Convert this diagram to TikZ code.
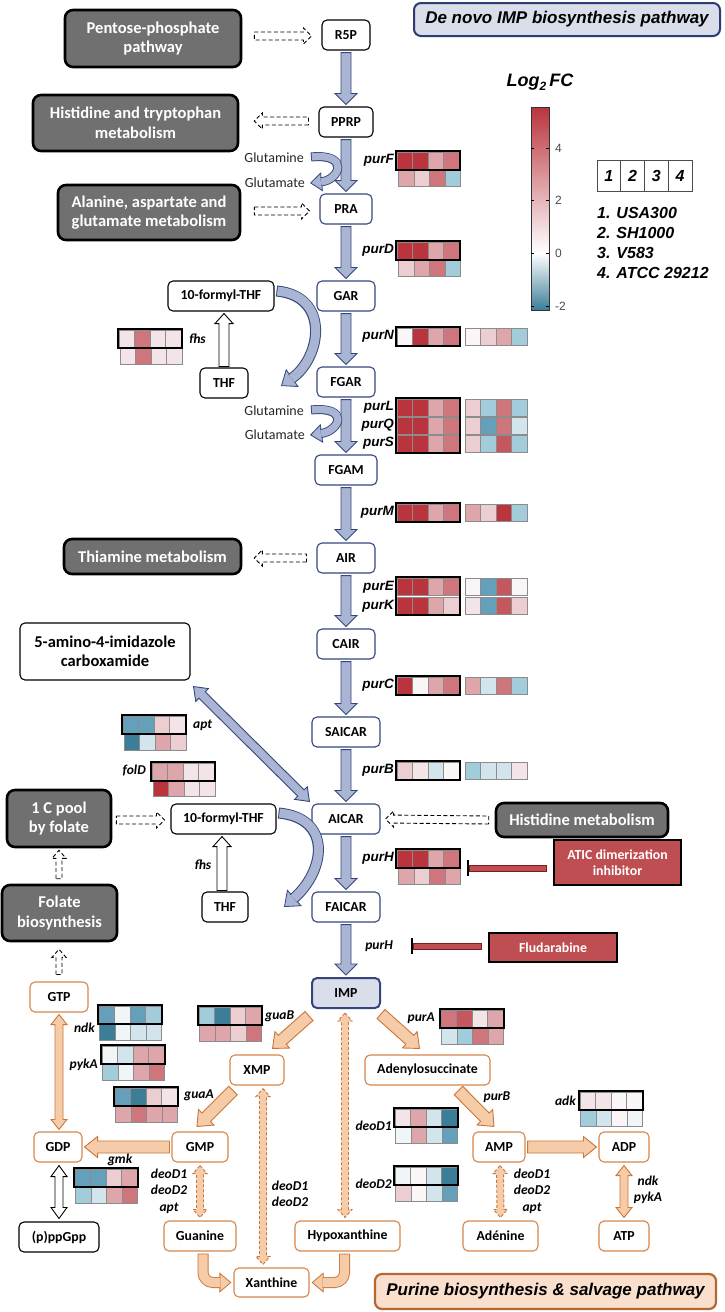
\documentclass[tikz,border=0pt]{standalone}
\usepackage{fontspec}
\setmainfont{Carlito}
\newfontfamily\arialf{Liberation Sans}
\usetikzlibrary{calc,arrows.meta}

\definecolor{navy}{RGB}{52,70,125}
\definecolor{navyb}{RGB}{45,60,110}
\definecolor{blfill}{RGB}{170,181,212}
\definecolor{impfill}{RGB}{218,221,234}
\definecolor{grayfill}{RGB}{112,112,112}
\definecolor{orbd}{RGB}{214,134,74}
\definecolor{orfill}{RGB}{246,203,168}
\definecolor{orarbd}{RGB}{200,118,58}
\definecolor{peach}{RGB}{250,224,204}
\definecolor{peachbd}{RGB}{182,104,52}
\definecolor{inred}{RGB}{190,78,82}
\definecolor{inredbd}{RGB}{120,30,35}
% heat map colours
\definecolor{rA}{RGB}{186,52,62}
\definecolor{rB2}{RGB}{197,88,95}
\definecolor{rB}{RGB}{207,118,124}
\definecolor{rC}{RGB}{222,165,170}
\definecolor{rD}{RGB}{236,206,210}
\definecolor{rE}{RGB}{243,228,231}
\definecolor{wW}{RGB}{250,246,247}
\definecolor{wB}{RGB}{240,246,248}
\definecolor{bD}{RGB}{210,229,236}
\definecolor{bC}{RGB}{163,204,219}
\definecolor{bB}{RGB}{100,160,185}
\definecolor{bA}{RGB}{60,125,152}

\newcommand\fnode{\fontsize{13.8}{15}\selectfont\bfseries}
\newcommand\gfont{\fontsize{16.5}{19.5}\selectfont\bfseries}
\newcommand\glabfont{\arialf\fontsize{13.5}{15}\selectfont\bfseries\itshape}
\newcommand\clabfont{\fontsize{13.5}{16.5}\selectfont\bfseries\itshape}
\newcommand\ttlfont{\arialf\fontsize{17}{20}\selectfont\bfseries\itshape}
\newcommand\glufont{\fontsize{14}{15}\selectfont}

\tikzset{
 wbox/.style={draw=black, line width=1.1pt, rounded corners=5pt, fill=white, minimum height=30pt, inner sep=3pt, font=\fnode},
 bbox/.style={wbox, draw=navy},
 obox/.style={wbox, draw=orbd},
 gbox/.style={draw=black, line width=2.6pt, rounded corners=8pt, fill=grayfill, text=white, font=\gfont, align=center, inner sep=2pt},
 glab/.style={font=\glabfont, inner sep=0pt},
 clab/.style={font=\clabfont, inner sep=0pt, align=center},
 glu/.style={anchor=east, inner sep=0pt, font=\glufont, text=black!85},
 barw/.style={fill=blfill, draw=navy, line width=0.9pt},
 oarw/.style={fill=orfill, draw=orarbd, line width=0.9pt},
 odash/.style={fill=orfill, draw=orarbd, line width=0.9pt, dash pattern=on 3pt off 2pt},
 darw/.style={fill=white, draw=black, line width=0.9pt, dash pattern=on 4pt off 2.5pt},
 warw/.style={fill=white, draw=black, line width=0.9pt},
 hmc/.style={draw=black!45, line width=0.5pt},
 redbox/.style={draw=black, line width=2.4pt, fill=inred, text=white, font=\fontsize{13.8}{16}\selectfont\bfseries, align=center},
}

% straight block arrow: style, from, to, shaft half width, head half width, head length
\newcommand\blkarrow[6]{%
 \coordinate (ba) at (#2); \coordinate (bb) at (#3);
 \coordinate (bc) at ($(bb)!#6!(ba)$);
 \draw[#1] ($(ba)!#4!90:(bb)$) -- ($(bc)!#4!90:(bb)$) -- ($(bc)!#5!90:(bb)$) -- (bb)
   -- ($(bc)!#5!-90:(bb)$) -- ($(bc)!#4!-90:(bb)$) -- ($(ba)!#4!-90:(bb)$) -- cycle;}
% double headed block arrow
\newcommand\dblkarrow[6]{%
 \coordinate (ba) at (#2); \coordinate (bb) at (#3);
 \coordinate (bc) at ($(bb)!#6!(ba)$); \coordinate (bd) at ($(ba)!#6!(bb)$);
 \draw[#1] (ba) -- ($(bd)!#5!90:(bb)$) -- ($(bd)!#4!90:(bb)$) -- ($(bc)!#4!90:(bb)$) -- ($(bc)!#5!90:(bb)$) -- (bb)
   -- ($(bc)!#5!-90:(bb)$) -- ($(bc)!#4!-90:(bb)$) -- ($(bd)!#4!-90:(bb)$) -- ($(bd)!#5!-90:(bb)$) -- cycle;}
% curved block arrow: fill, border, outer width, inner width, head length, head full width, shorten, path
\newcommand\crvarrow[8]{%
 \draw[draw=#2,line width=0.8pt,-{Triangle[length=#5,width=#6,fill=#1]}] #8;
 \draw[draw=#2,line width=#3,shorten >=#7] #8;
 \draw[draw=#1,line width=#4,shorten >=#7,shorten <=0.9pt] #8;}
% heat map row: x, y, height, four colours
\newcommand\hmrow[7]{%
 \filldraw[hmc,fill=#4] (#1,#2) rectangle ++(15.5,#3);
 \filldraw[hmc,fill=#5] (#1+15.5,#2) rectangle ++(15.5,#3);
 \filldraw[hmc,fill=#6] (#1+31,#2) rectangle ++(15.5,#3);
 \filldraw[hmc,fill=#7] (#1+46.5,#2) rectangle ++(15.5,#3);}
\newcommand\hmframe[3]{\draw[line width=2.4pt] (#1-1,#2-1) rectangle (#1+63,#2+#3+1);}

\begin{document}
\begin{tikzpicture}[x=1pt,y=-1pt]
\useasboundingbox (0,0) rectangle (725,1312);
\fill[white] (0,0) rectangle (725,1312);

% ---------- title boxes ----------
\node[draw=navyb, fill=impfill, line width=2pt, rounded corners=7pt, minimum width=306pt, minimum height=33pt, font=\ttlfont] (title) at (567,19.5) {De novo IMP biosynthesis pathway};
\node[draw=peachbd, fill=peach, line width=2.2pt, rounded corners=7pt, minimum width=341pt, minimum height=35pt, font=\ttlfont] (title2) at (545.5,1291.5) {Purine biosynthesis \& salvage pathway};

% ---------- main column ----------
\node[wbox, minimum width=48pt] (R5P) at (346,35) {R5P};
\node[wbox, minimum width=54pt] (PPRP) at (346,122) {PPRP};
\node[bbox, minimum width=52pt] (PRA) at (346,209) {PRA};
\node[bbox, minimum width=58pt] (GAR) at (346,296) {GAR};
\node[bbox, minimum width=58pt] (FGAR) at (346,382) {FGAR};
\node[bbox, minimum width=62pt] (FGAM) at (346,470) {FGAM};
\node[bbox, minimum width=58pt] (AIR) at (346,558) {AIR};
\node[bbox, minimum width=58pt] (CAIR) at (346,644) {CAIR};
\node[bbox, minimum width=68pt] (SAICAR) at (346,732) {SAICAR};
\node[bbox, minimum width=68pt] (AICAR) at (346,819) {AICAR};
\node[bbox, minimum width=68pt] (FAICAR) at (346,907) {FAICAR};
\node[bbox, minimum width=68pt, fill=impfill, line width=2pt] (IMP) at (346,993) {IMP};

\foreach \ma/\mb in {R5P/PPRP, PPRP/PRA, PRA/GAR, GAR/FGAR, FGAR/FGAM, FGAM/AIR, AIR/CAIR, CAIR/SAICAR, SAICAR/AICAR, AICAR/FAICAR, FAICAR/IMP}
 {\blkarrow{barw}{$(\ma.south)+(0,2)$}{$(\mb.north)+(0,-2)$}{5pt}{11pt}{11pt}}

% ---------- grey pathway boxes ----------
\node[gbox, minimum width=176pt, minimum height=57pt] (pent) at (153,38.5) {Pentose-phosphate\\pathway};
\node[gbox, minimum width=205pt, minimum height=56pt] (histtry) at (135.5,123) {Histidine and tryptophan\\metabolism};
\node[gbox, minimum width=182pt, minimum height=55pt] (ala) at (149,212.5) {Alanine, aspartate and\\glutamate metabolism};
\node[gbox, minimum width=177pt, minimum height=35pt] (thia) at (152.5,556.5) {Thiamine metabolism};
\node[gbox, minimum width=172pt, minimum height=34pt] (hist) at (582,820) {Histidine metabolism};
\node[gbox, minimum width=104pt, minimum height=57pt] (cpool) at (59,818.5) {1 C pool\\by folate};
\node[gbox, minimum width=115pt, minimum height=56pt] (folbio) at (59.5,913) {Folate\\biosynthesis};

% ---------- white boxes ----------
\node[wbox, minimum width=106pt] (fthfA) at (221,296) {10-formyl-THF};
\node[wbox, minimum width=48pt] (thfA) at (224,383) {THF};
\node[wbox, minimum width=170pt, minimum height=57pt, font=\gfont, align=center] (amino) at (105,651.5) {5-amino-4-imidazole\\carboxamide};
\node[wbox, minimum width=105pt] (fthfB) at (223.5,819) {10-formyl-THF};
\node[wbox, minimum width=46pt] (thfB) at (225,907) {THF};
\node[wbox, minimum width=80pt] (ppgpp) at (59,1237) {(p)ppGpp};

% ---------- orange boxes ----------
\node[obox, minimum width=58pt] (GTP) at (59,997) {GTP};
\node[obox, minimum width=54pt] (XMP) at (257,1070) {XMP};
\node[obox, minimum width=125pt] (adsu) at (427.5,1070) {Adenylosuccinate};
\node[obox, minimum width=48pt] (GDP) at (58,1147) {GDP};
\node[obox, minimum width=56pt] (GMP) at (200,1147) {GMP};
\node[obox, minimum width=72pt] (gua) at (200,1236) {Guanine};
\node[obox, minimum width=75pt, minimum height=29pt] (xan) at (271.5,1282.5) {Xanthine};
\node[obox, minimum width=105pt] (hyp) at (347.5,1236) {Hypoxanthine};
\node[obox, minimum width=52pt] (AMP) at (499,1147) {AMP};
\node[obox, minimum width=50pt] (ADP) at (624,1147) {ADP};
\node[obox, minimum width=75pt] (ade) at (500.5,1236) {Adénine};
\node[obox, minimum width=50pt] (ATP) at (624,1236) {ATP};

% ---------- dashed pathway arrows ----------
\blkarrow{darw}{$(pent.east)+(12,-2.5)$}{$(R5P.west)+(-10,1)$}{4pt}{8pt}{8pt}
\blkarrow{darw}{$(PPRP.west)+(-10,-1)$}{$(histtry.east)+(15,-2)$}{4pt}{8pt}{8pt}
\blkarrow{darw}{$(ala.east)+(13,-1.5)$}{$(PRA.west)+(-10,2)$}{4pt}{8pt}{8pt}
\blkarrow{darw}{$(AIR.west)+(-10,0)$}{$(thia.east)+(12,1.5)$}{4pt}{8pt}{8pt}
\blkarrow{darw}{$(hist.west)+(-6,0)$}{$(AICAR.east)+(5,0)$}{4pt}{8pt}{8pt}
\blkarrow{darw}{$(cpool.east)+(4,1.5)$}{$(fthfB.west)+(-6,1)$}{4pt}{8pt}{8pt}
\blkarrow{darw}{$(folbio.north)+(-0.5,-5)$}{$(cpool.south)+(0,2)$}{3pt}{7pt}{8pt}
\blkarrow{darw}{$(GTP.north)+(0,-7)$}{$(folbio.south)+(-0.5,7)$}{3pt}{7pt}{8pt}

% ---------- fhs arrows (white) ----------
\blkarrow{warw}{$(thfA.north)+(0,-1)$}{$(fthfA.south -| thfA.north)+(0,2)$}{5pt}{9pt}{10pt}
\blkarrow{warw}{$(thfB.north)+(-3,-1)$}{$(fthfB.south -| thfB.north)+(-3,2)$}{5pt}{9pt}{10pt}
\node[clab] (lfhsB) at (203,865) {fhs};

% ---------- blue double arrow ----------
\dblkarrow{barw}{$(amino.south east)+(3,6)$}{$(AICAR.north west)+(-2,-2)$}{4.5pt}{9pt}{12pt}

% ---------- glutamine / glutamate ----------
\node[glu] (glnA) at (304,158) {Glutamine};
\node[glu] (gltA) at (305,183) {Glutamate};
\node[glu] (glnB) at (304,411) {Glutamine};
\node[glu] (gltB) at (305,435) {Glutamate};
\crvarrow{blfill}{navy}{9pt}{7.2pt}{12pt}{19pt}{11pt}{($(glnA.east)+(7,-1)$) .. controls (350,153) and (340,180) .. ($(gltA.east)+(5,0)$)}
\crvarrow{blfill}{navy}{9pt}{7.2pt}{12pt}{19pt}{11pt}{($(glnB.east)+(7,-1)$) .. controls (350,406) and (340,431) .. ($(gltB.east)+(5,0)$)}

% ---------- big folate arcs ----------
\coordinate (arcA) at (281,386);
\coordinate (arcB) at (284,907);
\crvarrow{blfill}{navy}{11pt}{9pt}{14pt}{22pt}{13pt}{($(fthfA.east)+(2,-5)$) .. controls (330,296) and (322,357) .. (arcA)}
\crvarrow{blfill}{navy}{11pt}{9pt}{14pt}{22pt}{13pt}{($(fthfB.east)+(2,-6)$) .. controls (332,818) and (326,870) .. (arcB)}

% ---------- orange arrows ----------
\blkarrow{oarw}{$(IMP.south west)+(-2,7)$}{$(XMP.north east)+(-12,-6)$}{6pt}{11pt}{13pt}
\blkarrow{oarw}{$(IMP.south east)+(0,5)$}{$(adsu.north)+(-8,-6)$}{6pt}{11pt}{13pt}
\blkarrow{oarw}{$(XMP.south)+(-24,5)$}{$(GMP.north)+(-3,-5)$}{6pt}{11pt}{13pt}
\blkarrow{oarw}{$(adsu.south)+(31,5)$}{$(AMP.north)+(-5,-5)$}{6pt}{11pt}{13pt}
\blkarrow{oarw}{$(GMP.west)+(-2,0)$}{$(GDP.east)+(2,0)$}{6pt}{10.5pt}{13pt}
\blkarrow{oarw}{$(AMP.east)+(2,0)$}{$(ADP.west)+(-2,0)$}{6pt}{10.5pt}{13pt}
\dblkarrow{oarw}{$(GTP.south)+(0,2)$}{$(GDP.north)+(1,-2)$}{4pt}{8pt}{10pt}
\dblkarrow{oarw}{$(ADP.south)+(0,3)$}{$(ATP.north)+(0,-3)$}{4pt}{8pt}{10pt}
\dblkarrow{warw}{$(GDP.south)+(1,3)$}{$(ppgpp.north)+(0,-3)$}{4pt}{8pt}{11pt}
\dblkarrow{odash}{$(GMP.south)+(0,3)$}{$(gua.north)+(0,-3)$}{3.5pt}{7pt}{8pt}
\dblkarrow{odash}{$(AMP.south)+(1,3)$}{$(ade.north)+(0,-3)$}{3.5pt}{7pt}{8pt}
\dblkarrow{odash}{$(XMP.south)+(6,3)$}{$(xan.north -| XMP.south)+(6,-3)$}{3.5pt}{7pt}{8pt}
\dblkarrow{odash}{$(IMP.south)+(-1,4)$}{$(hyp.north -| IMP.south)+(-1,-3)$}{3.5pt}{7pt}{8pt}
\crvarrow{orfill}{orarbd}{11pt}{9.2pt}{12pt}{20pt}{11pt}{[rounded corners=10pt] ($(gua.south)+(3,2)$) |- ($(xan.west)+(-2,0)$)}
\crvarrow{orfill}{orarbd}{11pt}{9.2pt}{12pt}{20pt}{11pt}{[rounded corners=10pt] ($(hyp.south)+(-3,2)$) |- ($(xan.east)+(2,0)$)}

% orange arrow labels
\node[clab] (lpurB2) at (497,1097) {purB};
\node[clab] (lndk2) at (648,1190) {ndk\\pykA};
\node[clab] (ldeoG) at (169,1191) {deoD1\\deoD2\\apt};
\node[clab] (ldeoA) at (532,1191) {deoD1\\deoD2\\apt};
\node[clab] (ldeoX) at (290,1194) {deoD1\\deoD2};

% ---------- inhibitors ----------
\node[redbox, minimum width=127pt, minimum height=45pt] (atic) at (617.5,862.5) {ATIC dimerization\\inhibitor};
\node[redbox, minimum width=128pt, minimum height=29pt] (flu) at (553,947.5) {Fludarabine};
\coordinate (inhA) at (468,868);
\coordinate (inhB) at (412,946);
\filldraw[fill=inred, draw=inredbd, line width=0.6pt] ($(inhA)+(1,-3)$) rectangle ($(atic.west)+(-7,9)$);
\draw[line width=1.6pt] ($(inhA)+(0,-8)$) -- ($(inhA)+(0,8)$);
\filldraw[fill=inred, draw=inredbd, line width=0.6pt] ($(inhB)+(1,-3)$) rectangle ($(flu.west)+(-7,2)$);
\draw[line width=1.6pt] ($(inhB)+(0,-8)$) -- ($(inhB)+(0,8)$);
\node[clab, anchor=east] (lpurH2) at (393,946) {purH};

% ---------- main column heat maps ----------
\node[glab, anchor=east] (lpurF) at (394,160) {purF};
\hmrow{398.5}{170.5}{16}{rC}{rD}{rB}{bC}
\hmrow{397}{152}{17}{rA}{rA}{rC}{rB} \hmframe{397}{152}{17}

\node[glab, anchor=east] (lpurD) at (394,250) {purD};
\hmrow{398.5}{260.5}{16}{rD}{rC}{rB}{bC}
\hmrow{397}{242}{17}{rA}{rA}{rC}{rB} \hmframe{397}{242}{17}

\node[glab, anchor=east] (lpurN) at (394,336) {purN};
\hmrow{397}{328}{17}{wW}{rA}{rC}{rB} \hmframe{397}{328}{17}
\hmrow{465}{328}{17}{wW}{rD}{rC}{bC}

\node[glab, anchor=east] (lpurL) at (394,407.5) {purL};
\node[glab, anchor=east] (lpurQ) at (394,425.5) {purQ};
\node[glab, anchor=east] (lpurS) at (394,443.5) {purS};
\hmrow{397}{399}{17}{rA}{rA}{rC}{rB}
\hmrow{397}{417}{17}{rA}{rA}{rC}{rB}
\hmrow{397}{435}{17}{rA}{rA}{rC}{rB}
\hmframe{397}{399}{53}
\hmrow{465}{399}{17}{rD}{bC}{rB}{bC}
\hmrow{465}{417}{17}{rD}{bB}{rB}{bD}
\hmrow{465}{435}{17}{rD}{bC}{rB2}{bC}

\node[glab, anchor=east] (lpurM) at (394,512.5) {purM};
\hmrow{397}{504}{17}{rA}{rA}{rC}{rB} \hmframe{397}{504}{17}
\hmrow{465}{504}{17}{rC}{rD}{rA}{bC}

\node[glab, anchor=east] (lpurE) at (394,587) {purE};
\node[glab, anchor=east] (lpurK) at (394,606) {purK};
\hmrow{397}{578}{17}{rA}{rA}{rC}{rB}
\hmrow{397}{597}{17}{rA}{rA}{rC}{rD}
\hmframe{397}{578}{36}
\hmrow{465}{578}{17}{wW}{bB}{rB2}{wW}
\hmrow{465}{597}{17}{rE}{bB}{rB2}{rD}

\node[glab, anchor=east] (lpurC) at (394,685.5) {purC};
\hmrow{397}{677}{17}{rA}{wW}{rC}{rB} \hmframe{397}{677}{17}
\hmrow{465}{677}{17}{rC}{bD}{rB}{bC}

\node[glab, anchor=east] (lpurB) at (394,770.5) {purB};
\hmrow{397}{762}{17}{rD}{rE}{bD}{wW} \hmframe{397}{762}{17}
\hmrow{465}{762}{17}{bC}{bD}{bD}{rE}

\node[glab, anchor=east] (lpurH) at (394,858.5) {purH};
\hmrow{398.5}{868.5}{16}{rC}{rD}{rB}{rC}
\hmrow{397}{850}{17}{rA}{rA}{rC}{rB} \hmframe{397}{850}{17}

% ---------- left heat maps ----------
\node[clab, anchor=west] (lfhsA) at (189,339) {fhs};
\hmrow{120}{348.5}{16}{rE}{rB}{rE}{rE}
\hmrow{119}{330}{17}{rE}{rB}{rE}{rE} \hmframe{119}{330}{17}

\node[clab, anchor=west] (lapt) at (193,725) {apt};
\hmrow{124}{734.5}{16}{bA}{bD}{rC}{rD}
\hmrow{123}{716}{17}{bB}{bB}{rD}{rE} \hmframe{123}{716}{17}

\node[clab, anchor=east] (lfolD) at (146,771) {folD};
\hmrow{153}{780.5}{16}{rA}{rC}{rE}{rE}
\hmrow{152}{763}{17}{rC}{rC}{rE}{rE} \hmframe{152}{763}{17}

% ---------- bottom heat maps ----------
\node[clab, anchor=east] (lndk) at (95,1028) {ndk};
\hmrow{99.5}{1024.5}{16}{bA}{wB}{bD}{bD}
\hmrow{99}{1006}{17}{bB}{wB}{bB}{bC} \hmframe{99}{1006}{17}

\node[clab, anchor=east] (lpykA) at (98,1065) {pykA};
\hmrow{102.5}{1064.5}{16}{bC}{wB}{rC}{rB}
\hmrow{102}{1046}{17}{wB}{bD}{rC}{rC} \hmframe{102}{1046}{17}

\node[clab, anchor=west] (lguaA) at (184,1095) {guaA};
\hmrow{115.5}{1106.5}{16}{rC}{rB}{rC}{rC}
\hmrow{115}{1088}{17}{bB}{bA}{rD}{rE} \hmframe{115}{1088}{17}

\node[clab, anchor=west] (lguaB) at (265,1016) {guaB};
\hmrow{199.5}{1025.5}{16}{rC}{rC}{rD}{rB}
\hmrow{199}{1007}{17}{bC}{bA}{rD}{rC} \hmframe{199}{1007}{17}

\node[clab] (lgmk) at (120,1160) {gmk};
\hmrow{75.5}{1187.5}{16}{bC}{bD}{rC}{rB}
\hmrow{75}{1169}{17}{bB}{bB}{rD}{rC} \hmframe{75}{1169}{17}

\node[clab, anchor=east] (lpurA) at (435,1018) {purA};
\hmrow{441.5}{1028.5}{16}{bD}{bC}{rB}{rC}
\hmrow{441}{1010}{17}{rB}{rB2}{rE}{rC} \hmframe{441}{1010}{17}

\node[clab, anchor=east] (ldeoD1) at (392,1126) {deoD1};
\hmrow{395.5}{1127.5}{16}{wB}{rC}{bD}{bB}
\hmrow{395}{1109}{17}{rE}{rC}{bD}{bA} \hmframe{395}{1109}{17}

\node[clab, anchor=east] (ldeoD2) at (392,1184) {deoD2};
\hmrow{395.5}{1185.5}{16}{rD}{wW}{bD}{bB}
\hmrow{395}{1167}{17}{wB}{wW}{bD}{bA} \hmframe{395}{1167}{17}

\node[clab, anchor=east] (ladk) at (576,1101) {adk};
\hmrow{580.5}{1110.5}{16}{bC}{bD}{wW}{wB}
\hmrow{580}{1092}{17}{rE}{rE}{wW}{wW} \hmframe{580}{1092}{17}

% ---------- colour bar legend ----------
\node[font=\arialf\fontsize{18}{20}\selectfont\bfseries\itshape] (logfc) at (540,82) {Log\raisebox{-4pt}{\fontsize{12}{12}\selectfont 2}\,FC};
\shade[top color=rA, bottom color=white] (531,107) rectangle (549,253);
\shade[top color=white, bottom color=bA] (531,253) rectangle (549,310);
\draw[line width=1pt, black!80] (531,107) rectangle (549,310);
\foreach \vv/\yy in {4/148,2/200,0/253,-2/306}{
  \draw[line width=0.8pt] (531,\yy) -- (534,\yy);
  \draw[line width=0.8pt] (546,\yy) -- (549,\yy);
  \node[anchor=west, inner sep=0pt, font=\arialf\fontsize{12}{12}\selectfont, text=black!70] at (555,\yy) {\vv};
}

% ---------- strain legend ----------
\foreach \i in {1,...,4}
  \node[draw=black!70, line width=0.8pt, minimum width=23.75pt, minimum height=31pt, inner sep=0pt, font=\arialf\fontsize{16}{18}\selectfont\bfseries\itshape] (leg\i) at ({597+23.75*(\i-0.5)},175.5) {\i};
\node[anchor=west, inner sep=0pt, align=left, font=\arialf\fontsize{16}{20.3}\selectfont\bfseries\itshape] (legtxt) at (597,243) {1. USA300\\2. SH1000\\3. V583\\4. ATCC 29212};

\end{tikzpicture}
\end{document}
